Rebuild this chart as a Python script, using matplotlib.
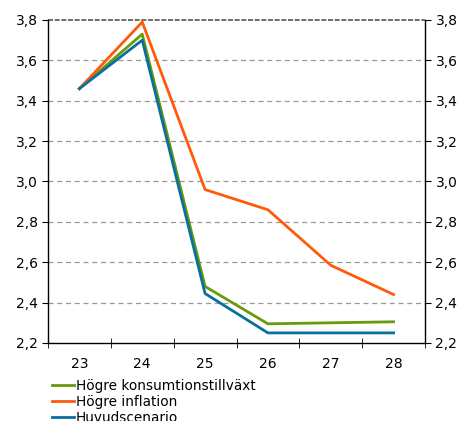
import matplotlib
matplotlib.use("Agg")
import matplotlib.pyplot as plt
from matplotlib.ticker import FuncFormatter, FixedLocator
import numpy as np

years = ["23", "24", "25", "26", "27", "28"]
konsumtion = [3.46, 3.73, 2.48, 2.295, 2.30, 2.305]
inflation = [3.46, 3.79, 2.96, 2.86, 2.585, 2.44]
huvud = [3.46, 3.70, 2.445, 2.25, 2.25, 2.25]

plt.rcParams['font.family'] = ['DejaVu Sans']

fig = plt.figure(figsize=(4.64, 4.21), dpi=100)
ax = fig.add_axes([0.1034, 0.1853, 0.8126, 0.7672])
x = np.arange(len(years))

ax.plot(x, konsumtion, color='#6a9a0a', lw=2, label='Högre konsumtionstillväxt')
ax.plot(x, inflation, color='#ff5a0a', lw=2, label='Högre inflation')
ax.plot(x, huvud, color='#0a6e9e', lw=2, label='Huvudscenario')

ax.set_xlim(-0.5, 5.5)
ax.set_ylim(2.2, 3.8)
yt = np.arange(2.2, 3.81, 0.2)
ax.set_yticks(yt)
fmt = FuncFormatter(lambda v, p: f"{v:.1f}".replace('.', ','))
ax.yaxis.set_major_formatter(fmt)
ax.tick_params(axis='y', which='both', right=True, labelright=True, direction='out', length=4, labelsize=10)
for y in yt[1:-1]:
    ax.axhline(y, color='#999999', lw=0.9, ls=(0, (4, 3)), zorder=0)
# top line darker
ax.axhline(3.8, color='#555555', lw=1.2, ls=(0, (3, 1)), zorder=0, clip_on=False)

ax.set_xticks(x)
ax.set_xticklabels(years)
ax.xaxis.set_minor_locator(FixedLocator(np.arange(-0.5, 5.6, 1)))
ax.tick_params(axis='x', which='major', length=0, labelsize=10, pad=10)
ax.tick_params(axis='x', which='minor', direction='inout', length=7)

ax.spines['top'].set_visible(False)
for s in ['left', 'right', 'bottom']:
    ax.spines[s].set_color('black')
    ax.spines[s].set_linewidth(1)

# legend sits below the axes, last row is cut at the edge like the original
ax.legend(loc='upper left', bbox_to_anchor=(0.01, -0.11), frameon=False, fontsize=9.8,
          handlelength=1.6, handletextpad=0.15, labelspacing=0.15, borderpad=0, borderaxespad=0)

fig.savefig('out.png', dpi=100)
